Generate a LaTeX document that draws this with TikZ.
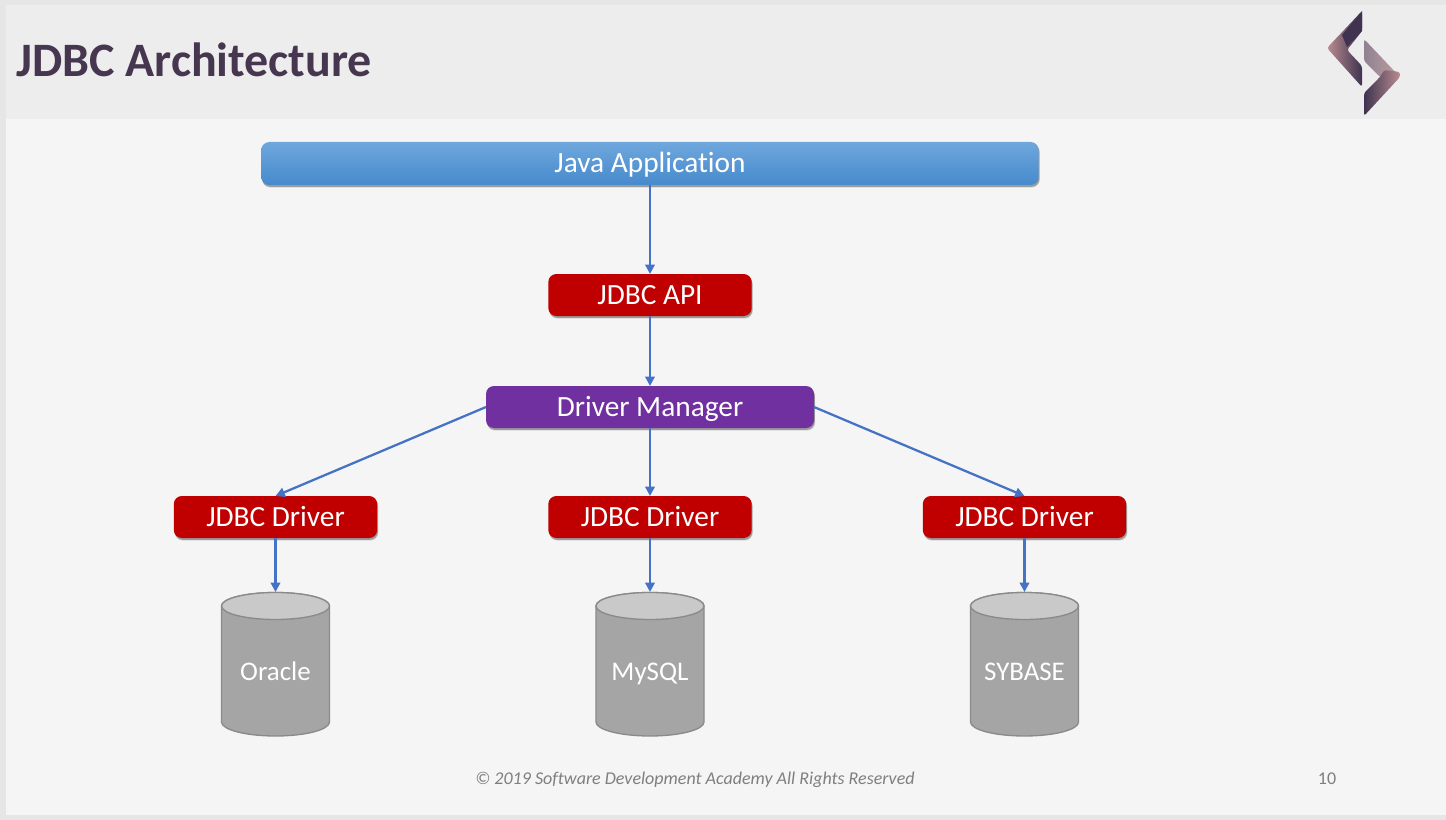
\documentclass[tikz,border=0pt]{standalone}
\usepackage{fontspec}
\setmainfont{Carlito}[Ligatures=CommonOff]
\usetikzlibrary{shadows,arrows.meta}
\definecolor{outerbg}{HTML}{E6E6E6}
\definecolor{headbg}{HTML}{EDEDED}
\definecolor{bodybg}{HTML}{F5F5F5}
\definecolor{titlecol}{HTML}{46364F}
\definecolor{redbox}{HTML}{C00000}
\definecolor{purplebox}{HTML}{7030A0}
\definecolor{linkblue}{HTML}{4472C4}
\definecolor{cylbody}{HTML}{A5A5A5}
\definecolor{cyltop}{HTML}{C9C9C9}
\definecolor{cylline}{HTML}{8A8A8A}
\definecolor{foot}{HTML}{7F7F7F}
\definecolor{logodark}{HTML}{3F3350}
\definecolor{logopink}{HTML}{B98C90}
\definecolor{logomauve}{HTML}{8F8292}
\definecolor{javatop}{HTML}{6FA7DD}
\definecolor{javabot}{HTML}{468ACC}
\tikzset{
  x=0.75pt,y=-0.75pt,
  softshadow/.style={
    general shadow={shadow xshift=0.9pt,shadow yshift=-2.0pt,opacity=0.12,fill=black},
    general shadow={shadow xshift=0.6pt,shadow yshift=-1.4pt,opacity=0.28,fill=black}},
  boxbase/.style={rounded corners=6pt,text=white,font=\fontsize{22}{24}\selectfont,
    inner sep=0pt,outer sep=0pt,text height=17pt,text depth=3pt,softshadow},
  redstyle/.style={boxbase,fill=redbox,minimum width=152.5pt,minimum height=31.5pt},
  purplestyle/.style={boxbase,fill=purplebox,minimum width=246pt,minimum height=31.5pt},
  javastyle/.style={boxbase,top color=javatop,bottom color=javabot,minimum width=583pt,minimum height=32.25pt},
  dbtext/.style={text=white,font=\fontsize{20.2}{22}\selectfont,inner sep=0pt,outer sep=0pt,
    minimum width=81pt,minimum height=108pt,text height=27pt,text depth=3pt},
  dbbody/.style={fill=cylbody,draw=cylline,line width=1pt},
  dbend/.style={fill=cyltop,draw=cylline,line width=1pt},
  link/.style={draw=linkblue,line width=1.7pt,-{Triangle[length=7pt,width=7pt]}},
}
% centre x, label, node name
\newcommand{\dbcyl}[3]{%
  \path[dbbody] (#1-54,606) arc[start angle=180,end angle=360,x radius=54,y radius=13.5]
     -- (#1+54,722) arc[start angle=0,end angle=180,x radius=54,y radius=14] -- cycle;
  \path[dbend] (#1,606) ellipse[x radius=54,y radius=13.5];
  \node[dbtext] (#3) at (#1,664) {#2};
}
\begin{document}
\begin{tikzpicture}
\useasboundingbox (0,0) rectangle (1446,820);
\fill[outerbg] (0,0) rectangle (1446,820);
\fill[bodybg] (6,5) rectangle (1446,815);
\fill[headbg] (6,5) rectangle (1446,119);
\node[anchor=base west,inner sep=0pt,text=titlecol,font=\fontsize{36}{40}\selectfont\bfseries] (title) at (16,76.5) {JDBC Architecture};
% logo
\path[rounded corners=2pt,left color=logopink,right color=logodark] (1362,66) -- (1347,50) -- (1362,31) -- (1362,11) -- (1327,48) -- (1362,87) -- cycle;
\fill[logodark] (1362,11) -- (1362,31) -- (1347,47) -- (1342,35) -- cycle;
\path[rounded corners=2pt,left color=logomauve,right color=logopink!85!white] (1364,39) -- (1400,77) -- (1380,77) -- (1364,61) -- cycle;
\path[rounded corners=2pt,left color=logodark,right color=logopink] (1400,72) -- (1400,77) -- (1364,116) -- (1364,93) -- (1380,77) -- (1384,70) -- cycle;
% boxes
\node[javastyle] (java) at (650,163.5) {Java Application};
\node[redstyle] (api) at (650,295) {JDBC API};
\node[purplestyle] (dm) at (650,407) {Driver Manager};
\node[redstyle] (d1) at (275.5,517) {JDBC Driver};
\node[redstyle] (d2) at (650,517) {JDBC Driver};
\node[redstyle] (d3) at (1024.5,517) {JDBC Driver};
\dbcyl{275.5}{Oracle}{c1}
\dbcyl{650}{MySQL}{c2}
\dbcyl{1024.5}{SYBASE}{c3}
% connectors
\draw[link] (java.south) -- (api.north);
\draw[link] (api.south) -- (dm.north);
\draw[link] (dm.south) -- (d2.north);
\draw[link] (dm.west) -- (d1.north);
\draw[link] (dm.east) -- (d3.north);
\draw[link] (d1.south) -- (c1.north);
\draw[link] (d2.south) -- (c2.north);
\draw[link] (d3.south) -- (c3.north);
% footer
\node[text=foot,font=\fontsize{13.5}{16}\selectfont\itshape,inner sep=0pt] (copy) at (695,780) {© 2019 Software Development Academy All Rights Reserved};
\node[text=foot,font=\fontsize{13.5}{16}\selectfont,inner sep=0pt] (page) at (1327,779) {10};
\end{tikzpicture}
\end{document}
